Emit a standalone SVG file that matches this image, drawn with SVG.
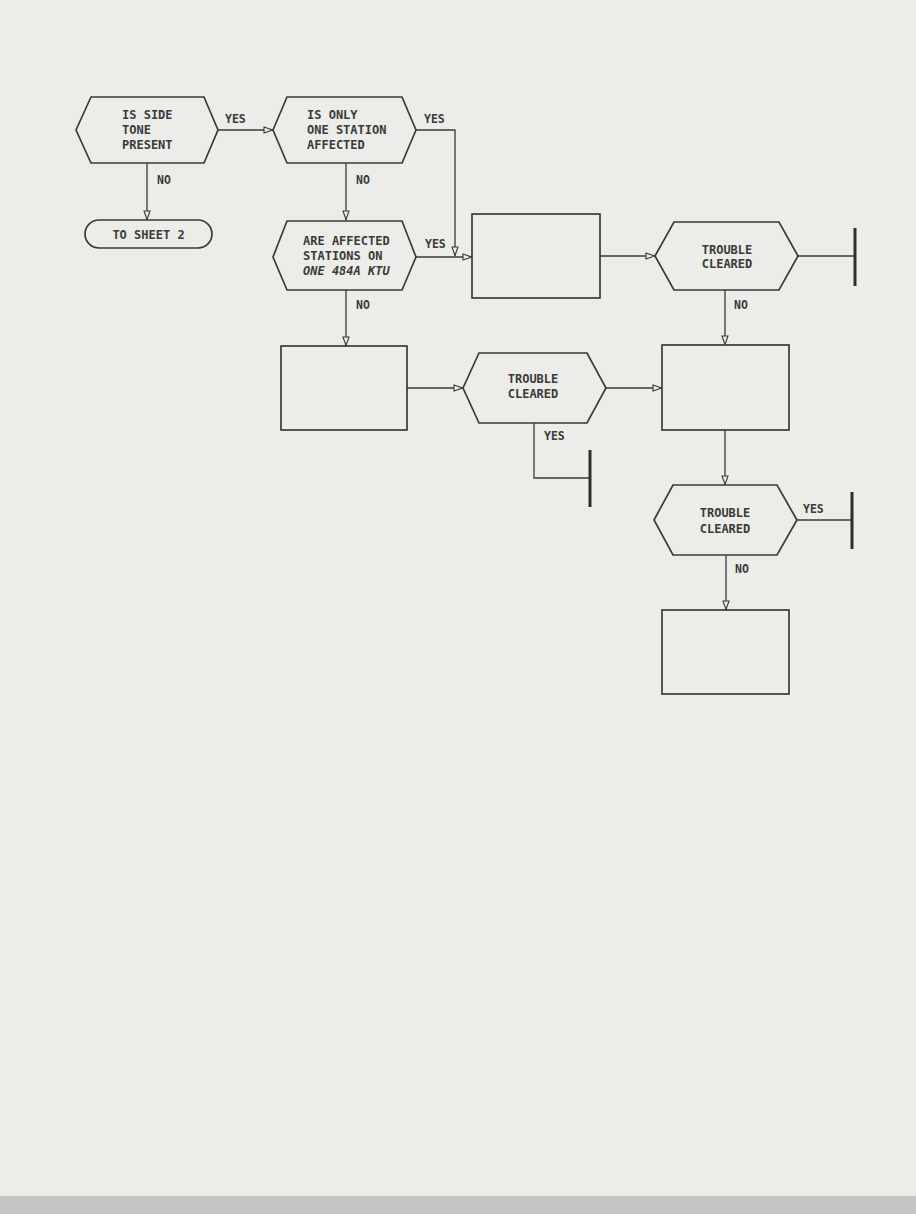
<svg xmlns="http://www.w3.org/2000/svg" width="916" height="1214" viewBox="0 0 916 1214">
<defs>
<style>
.bg{fill:#ecece8}
.shape{fill:none;stroke:#3a3a3a;stroke-width:1.7;stroke-linejoin:miter}
.line{fill:none;stroke:#3a3a3a;stroke-width:1.3}
.bar{fill:none;stroke:#2e2e2e;stroke-width:3}
.t{font-family:"DejaVu Sans Mono","Liberation Mono",monospace;font-size:12px;font-weight:bold;fill:#3a3a3a}
.c{text-anchor:middle}
.lbl{font-family:"DejaVu Sans Mono","Liberation Mono",monospace;font-size:11.5px;font-weight:bold;fill:#3a3a3a}
.it{font-style:italic}
</style>
<marker id="ah" viewBox="0 0 10 8" refX="10" refY="4" markerWidth="10" markerHeight="8" markerUnits="userSpaceOnUse" orient="auto">
<path d="M1,1 L9.5,4 L1,7 Z" fill="#ecece8" stroke="#3a3a3a" stroke-width="1.1"/>
</marker>
</defs>
<rect class="bg" x="0" y="0" width="916" height="1214"/>
<rect x="0" y="1196" width="916" height="18" fill="#c5c5c3"/>

<g id="connectors">
<path class="line" d="M218,130 H273" marker-end="url(#ah)"/>
<path class="line" d="M147,163 V220" marker-end="url(#ah)"/>
<path class="line" d="M346,163 V220" marker-end="url(#ah)"/>
<path class="line" d="M416,130 H455 V256" marker-end="url(#ah)"/>
<path class="line" d="M416,257 H472" marker-end="url(#ah)"/>
<path class="line" d="M600,256 H655" marker-end="url(#ah)"/>
<path class="line" d="M798,256 H855"/>
<path class="bar" d="M855,228 V286"/>
<path class="line" d="M346,290 V346" marker-end="url(#ah)"/>
<path class="line" d="M725,290 V345" marker-end="url(#ah)"/>
<path class="line" d="M407,388 H463" marker-end="url(#ah)"/>
<path class="line" d="M606,388 H662" marker-end="url(#ah)"/>
<path class="line" d="M534,423 V478 H590"/>
<path class="bar" d="M590,450 V507"/>
<path class="line" d="M725,430 V485" marker-end="url(#ah)"/>
<path class="line" d="M797,520 H852"/>
<path class="bar" d="M852,492 V549"/>
<path class="line" d="M726,555 V610" marker-end="url(#ah)"/>
<text class="lbl" x="225" y="123">YES</text>
<text class="lbl" x="424" y="123">YES</text>
<text class="lbl" x="157" y="184">NO</text>
<text class="lbl" x="356" y="184">NO</text>
<text class="lbl" x="425" y="248">YES</text>
<text class="lbl" x="356" y="309">NO</text>
<text class="lbl" x="734" y="309">NO</text>
<text class="lbl" x="544" y="440">YES</text>
<text class="lbl" x="803" y="513">YES</text>
<text class="lbl" x="735" y="573">NO</text>
</g>

<g id="side-tone">
<polygon class="shape" points="76,130 91,97 204,97 218,130 204,163 91,163"/>
<text class="t" x="122" y="119">IS SIDE</text>
<text class="t" x="122" y="134">TONE</text>
<text class="t" x="122" y="149">PRESENT</text>
</g>

<g id="to-sheet-2">
<rect class="shape" x="85" y="220" width="127" height="28" rx="14" ry="14"/>
<text class="t c" x="148.5" y="239">TO SHEET 2</text>
</g>

<g id="one-station">
<polygon class="shape" points="273,130 287,97 402,97 416,130 402,163 287,163"/>
<text class="t" x="307" y="119">IS ONLY</text>
<text class="t" x="307" y="134">ONE STATION</text>
<text class="t" x="307" y="149">AFFECTED</text>
</g>

<g id="same-ktu">
<polygon class="shape" points="273,257 287,221 402,221 416,257 402,290 287,290"/>
<text class="t" x="303" y="245">ARE AFFECTED</text>
<text class="t" x="303" y="260">STATIONS ON</text>
<text class="t it" x="303" y="275">ONE 484A KTU</text>
</g>

<g id="box-1">
<rect class="shape" x="472" y="214" width="128" height="84"/>
</g>

<g id="cleared-1">
<polygon class="shape" points="655,256 674,222 779,222 798,256 779,290 674,290"/>
<text class="t c" x="727" y="254">TROUBLE</text>
<text class="t c" x="727" y="268">CLEARED</text>
</g>

<g id="box-2">
<rect class="shape" x="281" y="346" width="126" height="84"/>
</g>

<g id="cleared-2">
<polygon class="shape" points="463,388 479,353 587,353 606,388 587,423 479,423"/>
<text class="t c" x="533" y="383">TROUBLE</text>
<text class="t c" x="533" y="398">CLEARED</text>
</g>

<g id="box-3">
<rect class="shape" x="662" y="345" width="127" height="85"/>
</g>

<g id="cleared-3">
<polygon class="shape" points="654,520 673,485 777,485 797,520 777,555 673,555"/>
<text class="t c" x="725" y="517">TROUBLE</text>
<text class="t c" x="725" y="533">CLEARED</text>
</g>

<g id="box-4">
<rect class="shape" x="662" y="610" width="127" height="84"/>
</g>
</svg>
